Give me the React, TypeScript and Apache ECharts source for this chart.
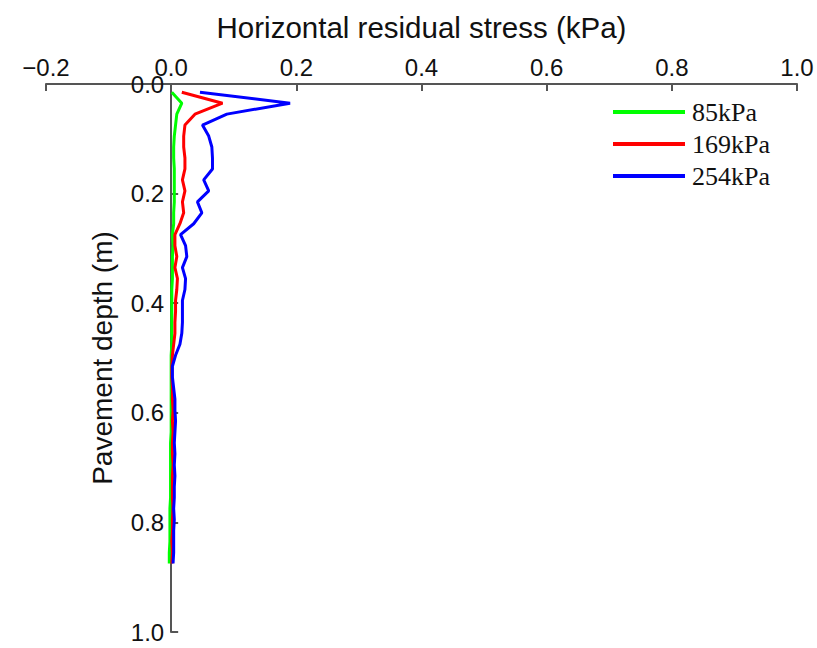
import React, { useEffect, useRef } from "react";
import * as echarts from "echarts";

const depths = [
  0.015, 0.035, 0.055, 0.075, 0.095, 0.115, 0.135, 0.155, 0.175, 0.195, 0.215,
  0.235, 0.255, 0.275, 0.295, 0.315, 0.335, 0.355, 0.375, 0.395, 0.415, 0.435,
  0.455, 0.475, 0.495, 0.515, 0.535, 0.555, 0.575, 0.595, 0.615, 0.635, 0.655,
  0.675, 0.695, 0.715, 0.735, 0.755, 0.775, 0.795, 0.815, 0.835, 0.855, 0.875,
];

const stress85 = [
  0.001, 0.017, 0.009, 0.007, 0.005, 0.004, 0.004, 0.005, 0.005, 0.005, 0.005,
  0.004, 0.004, 0.002, 0.003, 0.002, 0.002, 0.002, 0.001, 0.001, 0.001, 0.001,
  0.001, 0.001, 0.0, 0.0, 0.0, 0.0, 0.0, 0.0, 0.0, 0.0, -0.001, -0.001, -0.001,
  -0.001, -0.001, -0.001, -0.002, -0.002, -0.002, -0.002, -0.003, -0.003,
];

const stress169 = [
  0.017, 0.082, 0.038, 0.022, 0.02, 0.02, 0.022, 0.022, 0.018, 0.022, 0.018,
  0.02, 0.014, 0.006, 0.006, 0.009, 0.006, 0.01, 0.009, 0.007, 0.007, 0.006,
  0.006, 0.004, 0.002, 0.001, 0.001, 0.002, 0.002, 0.003, 0.002, 0.003, 0.002,
  0.002, 0.003, 0.002, 0.002, 0.002, 0.003, 0.002, 0.002, 0.001, 0.002, 0.001,
];

const stress254 = [
  0.046, 0.19, 0.089, 0.05, 0.06, 0.065, 0.066, 0.066, 0.052, 0.06, 0.042,
  0.049, 0.036, 0.015, 0.023, 0.025, 0.018, 0.023, 0.022, 0.018, 0.018, 0.018,
  0.017, 0.014, 0.007, 0.002, 0.002, 0.004, 0.006, 0.006, 0.007, 0.006, 0.005,
  0.006, 0.005, 0.006, 0.005, 0.005, 0.004, 0.005, 0.004, 0.004, 0.004, 0.003,
];

const seriesNames = ["85kPa", "169kPa", "254kPa"];
const seriesColors = ["#00ff00", "#ff0000", "#0000ff"];
const seriesValues = [stress85, stress169, stress254];

const xTitle = "Horizontal residual stress (kPa)";
const yTitle = "Pavement depth (m)";

const fmt = (v: number) => (v < 0 ? "\u2212" : "") + Math.abs(v).toFixed(1);

export default function App() {
  const ref = useRef<HTMLDivElement>(null);
  useEffect(() => {
    if (!ref.current) return;
    const chart = echarts.init(ref.current, undefined, { renderer: "svg" });
    const axisColor = "#555555";
    const gridLeft = 46;
    const gridRight = 20;
    const plotWidth = 817 - gridLeft - gridRight;
    const zeroOffset = (plotWidth * 0.2) / 1.2;
    chart.setOption({
      animation: false,
      backgroundColor: "#ffffff",
      grid: {
        left: gridLeft,
        right: gridRight,
        top: 84,
        bottom: 16,
        containLabel: false,
        outerBoundsMode: "none",
      },
      legend: {
        orient: "vertical",
        left: 608,
        top: 94,
        icon: "rect",
        itemWidth: 72,
        itemHeight: 4,
        itemGap: 6,
        textStyle: {
          fontFamily: "Liberation Serif",
          fontSize: 26,
          lineHeight: 26,
          color: "#111",
          padding: [0, 0, 0, 2],
        },
        data: seriesNames,
      },
      xAxis: {
        type: "value",
        position: "top",
        min: -0.2,
        max: 1.0,
        interval: 0.2,
        name: xTitle,
        nameLocation: "middle",
        nameGap: 42,
        nameTextStyle: { fontFamily: "Liberation Sans", fontSize: 29.5, color: "#111" },
        axisLine: { show: true, onZero: false, lineStyle: { color: axisColor, width: 2 } },
        axisTick: { show: true, inside: true, length: 7, lineStyle: { color: axisColor, width: 2 } },
        axisLabel: {
          formatter: fmt,
          fontFamily: "Liberation Sans",
          fontSize: 24,
          color: "#111",
          margin: 5,
        },
        splitLine: { show: false },
      },
      yAxis: {
        type: "value",
        inverse: true,
        min: 0,
        max: 1.0,
        interval: 0.2,
        offset: -zeroOffset,
        name: yTitle,
        nameLocation: "middle",
        nameGap: 55,
        nameTextStyle: { fontFamily: "Liberation Sans", fontSize: 28, color: "#111" },
        axisLine: { show: true, onZero: false, lineStyle: { color: axisColor, width: 2 } },
        axisTick: { show: true, inside: true, length: 7, lineStyle: { color: axisColor, width: 2 } },
        axisLabel: {
          formatter: (v: number) => v.toFixed(1),
          fontFamily: "Liberation Sans",
          fontSize: 24,
          color: "#111",
          margin: 7,
        },
        splitLine: { show: false },
      },
      series: seriesNames.map((name, k) => ({
        name,
        type: "line",
        showSymbol: false,
        symbol: "none",
        color: seriesColors[k],
        lineStyle: { color: seriesColors[k], width: 3 },
        data: depths.map((d, i) => [seriesValues[k][i], d]),
      })),
    });
    return () => chart.dispose();
  }, []);
  return (
    <div
      ref={ref}
      style={{ position: "absolute", left: 0, top: 0, width: 817, height: 648, background: "#fff" }}
    />
  );
}
